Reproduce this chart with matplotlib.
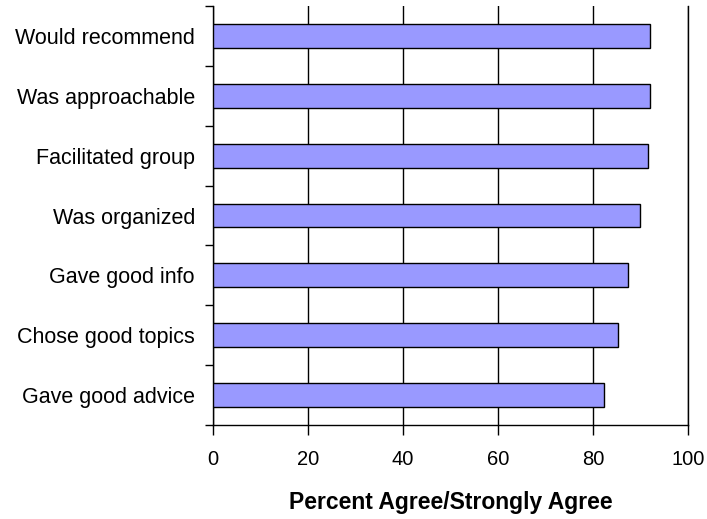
import matplotlib.pyplot as plt
import numpy as np

plt.rcParams['font.family'] = ['Liberation Sans', 'DejaVu Sans']

categories = ['Would recommend', 'Was approachable', 'Facilitated group',
              'Was organized', 'Gave good info', 'Chose good topics',
              'Gave good advice']
percent = [92.1, 92.0, 91.6, 89.9, 87.3, 85.3, 82.3]
x_ticks = [0, 20, 40, 60, 80, 100]

fig = plt.figure(figsize=(7.07, 5.19), dpi=100)
ax = fig.add_axes([0.3013, 0.1811, 0.6718, 0.8073])

# prva kategorija ide na vrh
y = np.arange(len(categories))[::-1]
ax.barh(y, percent, height=0.4, color='#9999FF', edgecolor='black',
        linewidth=1, zorder=3)

ax.set_xlim(0, 100)
ax.set_ylim(-0.5, len(categories) - 0.5)
ax.set_xticks(x_ticks)
ax.set_xticklabels([str(t) for t in x_ticks], fontsize=14.5)
ax.set_yticks(y)
ax.set_yticklabels(categories, fontsize=15.5)
ax.set_yticks(np.arange(len(categories) + 1) - 0.5, minor=True)

ax.tick_params(axis='y', which='major', length=0, pad=13)
ax.tick_params(axis='y', which='minor', length=6, width=1, color='black')
ax.tick_params(axis='x', length=7, width=1, color='black', pad=11)

ax.xaxis.grid(True, color='black', linewidth=1)
ax.set_axisbelow(True)

ax.spines['top'].set_visible(False)
for side in ['left', 'bottom', 'right']:
    ax.spines[side].set_linewidth(1)

ax.set_xlabel('Percent Agree/Strongly Agree', fontsize=16.5,
              fontweight='bold', labelpad=16)

plt.savefig('out.png', dpi=100)
